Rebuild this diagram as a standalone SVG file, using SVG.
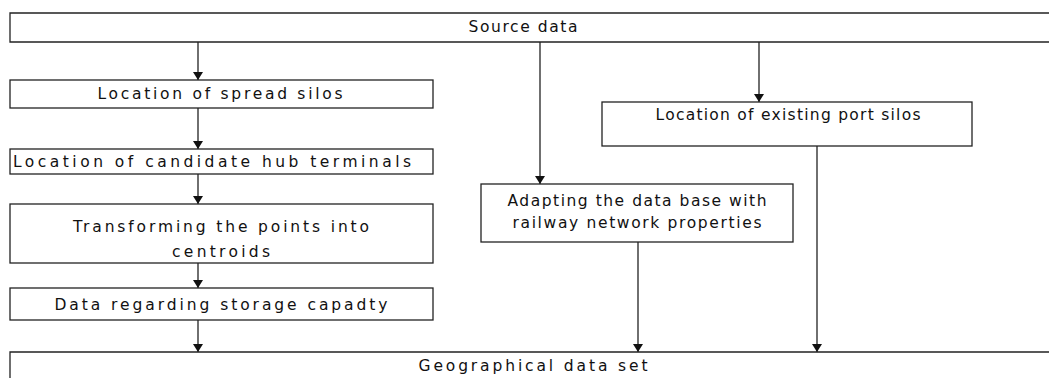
<svg xmlns="http://www.w3.org/2000/svg" width="1049" height="378" viewBox="0 0 1049 378">
  <style>
    .box { fill: #ffffff; stroke: #222222; stroke-width: 1.3; }
    .lbl { font-family: "DejaVu Sans", "Liberation Sans", sans-serif; font-size: 15.5px; fill: #111111; text-anchor: middle; }
    .edge { fill: none; stroke: #222222; stroke-width: 1.3; marker-end: url(#head); }
  </style>
  <defs>
    <marker id="head" markerWidth="9" markerHeight="10" refX="8" refY="5" orient="auto" markerUnits="userSpaceOnUse">
      <path d="M0,0 L8,5 L0,10 Z" fill="#111111"/>
    </marker>
  </defs>
  <rect width="1049" height="378" fill="#ffffff"/>

  <g id="connectors">
    <line class="edge" x1="198" y1="42" x2="198" y2="80"/>
    <line class="edge" x1="198" y1="108" x2="198" y2="149"/>
    <line class="edge" x1="198" y1="174" x2="198" y2="204"/>
    <line class="edge" x1="198" y1="263" x2="198" y2="288"/>
    <line class="edge" x1="198" y1="320" x2="198" y2="352"/>
    <line class="edge" x1="540" y1="42" x2="540" y2="184"/>
    <line class="edge" x1="759" y1="42" x2="759" y2="102"/>
    <line class="edge" x1="638" y1="242" x2="638" y2="352"/>
    <line class="edge" x1="817" y1="146" x2="817" y2="352"/>
  </g>

  <g id="source-data">
    <path class="box" d="M1055,13 H10 V42 H1055"/>
    <text class="lbl" x="523" y="32" textLength="109" lengthAdjust="spacing">Source data</text>
  </g>

  <g id="spread-silos">
    <rect class="box" x="10" y="80" width="423" height="28"/>
    <text class="lbl" x="220" y="99" textLength="245" lengthAdjust="spacing">Location of spread silos</text>
  </g>

  <g id="hub-terminals">
    <rect class="box" x="10" y="149" width="423" height="25"/>
    <text class="lbl" x="212" y="167" textLength="398" lengthAdjust="spacing">Location of candidate hub terminals</text>
  </g>

  <g id="centroids">
    <rect class="box" x="10" y="204" width="423" height="59"/>
    <text class="lbl" x="221" y="232" textLength="296" lengthAdjust="spacing">Transforming the points into</text>
    <text class="lbl" x="221" y="257" textLength="98" lengthAdjust="spacing">centroids</text>
  </g>

  <g id="storage-capacity">
    <rect class="box" x="10" y="288" width="423" height="32"/>
    <text class="lbl" x="221" y="310" textLength="333" lengthAdjust="spacing">Data regarding storage capadty</text>
  </g>

  <g id="railway-network">
    <rect class="box" x="481" y="184" width="312" height="58"/>
    <text class="lbl" x="637" y="206" textLength="259" lengthAdjust="spacing">Adapting the data base with</text>
    <text class="lbl" x="637" y="228" textLength="249" lengthAdjust="spacing">railway network properties</text>
  </g>

  <g id="port-silos">
    <rect class="box" x="602" y="102" width="370" height="44"/>
    <text class="lbl" x="788" y="120" textLength="265" lengthAdjust="spacing">Location of existing port silos</text>
  </g>

  <g id="geographical-data-set">
    <path class="box" d="M1055,352 H10 V390"/>
    <text class="lbl" x="533" y="371" textLength="229" lengthAdjust="spacing">Geographical data set</text>
  </g>
</svg>
